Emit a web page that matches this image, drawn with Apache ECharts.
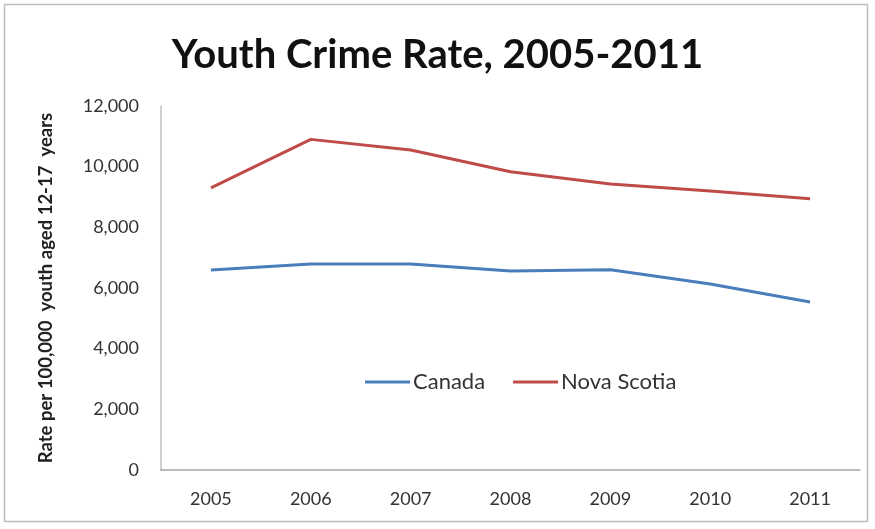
<!DOCTYPE html>
<html><head><meta charset="utf-8">
<script src="https://cdn.jsdelivr.net/npm/echarts@6/dist/echarts.min.js"></script>
<style>html,body{margin:0;padding:0;background:#fff}#c{width:875px;height:529px}</style>
</head><body><div id="c"></div>
<script>
const years = ['2005','2006','2007','2008','2009','2010','2011'];
const canada = [6590, 6790, 6790, 6560, 6600, 6130, 5540];
const novaScotia = [9300, 10900, 10550, 9830, 9430, 9200, 8940];
const yTicks = {min: 0, max: 12000, interval: 2000};

const chart = echarts.init(document.getElementById('c'));
chart.setOption({
  backgroundColor: '#fff',
  animation: false,
  graphic: [{type:'rect', shape:{x:4.5,y:4.5,width:863,height:517}, style:{fill:'none', stroke:'#bdbdbd', lineWidth:1.5}, silent:true}],
  title: {text: 'Youth Crime Rate, 2005-2011', left: 'center', top: 30,
    textStyle: {fontFamily: 'Lato', fontWeight: 'bold', fontSize: 40, color: '#111'}},
  legend: {data: ['Canada','Nova Scotia'], left: 360, top: 366, itemWidth: 45, itemHeight: 3, itemGap: 28,
    icon: 'rect', textStyle: {fontFamily: 'Lato', fontSize: 22, color: '#333', padding:[0,0,0,-2]}},
  grid: {left: 161, right: 15, top: 106, bottom: 59},
  xAxis: {type: 'category', data: years, boundaryGap: true,
    axisLine: {lineStyle: {color: '#a6a6a6', width: 1.5}},
    axisTick: {inside: true, length: 6, lineStyle: {color: '#a6a6a6'}},
    axisLabel: {fontFamily: 'Lato', fontSize: 18, color: '#333', margin: 20}},
  yAxis: {type: 'value', min: yTicks.min, max: yTicks.max, interval: yTicks.interval,
    name: 'Rate per 100,000  youth aged 12-17  years', nameLocation: 'middle', nameGap: 105,
    nameTextStyle: {fontFamily: 'Lato', fontWeight: 'bold', fontSize: 18.5, color: '#222'},
    axisLine: {show: true, lineStyle: {color: '#bfbfbf', width: 1.5}},
    axisTick: {show: false}, splitLine: {show: false},
    axisLabel: {fontFamily: 'Lato', fontSize: 18, color: '#333', margin: 22,
      formatter: v => v.toLocaleString('en-US')}},
  series: [
    {name: 'Canada', type: 'line', data: canada, symbol: 'none', lineStyle: {width: 3, color: '#4a7ebb'}, itemStyle: {color: '#4a7ebb'}},
    {name: 'Nova Scotia', type: 'line', data: novaScotia, symbol: 'none', lineStyle: {width: 3, color: '#be4b48'}, itemStyle: {color: '#be4b48'}}
  ]
});
</script></body></html>
